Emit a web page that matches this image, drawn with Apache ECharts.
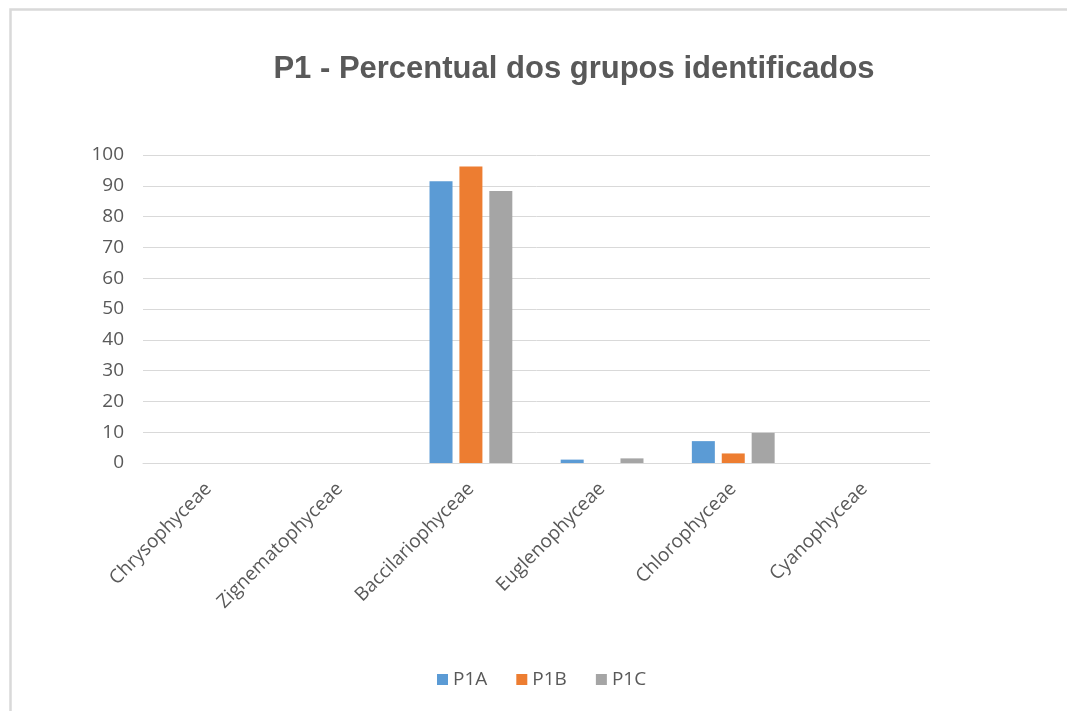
<!DOCTYPE html>
<html>
<head>
<meta charset="utf-8">
<script src="https://cdn.jsdelivr.net/npm/echarts@6/dist/echarts.min.js"></script>
<style>
  html, body { margin: 0; padding: 0; background: #fff; }
  #chart { width: 1067px; height: 711px; }
</style>
</head>
<body>
<div id="chart"></div>
<script>
// ── P1 - percentage of identified groups ──

const categories = ['Chrysophyceae', 'Zignematophyceae', 'Baccilariophyceae', 'Euglenophyceae', 'Chlorophyceae', 'Cyanophyceae'];
const seriesNames = ['P1A', 'P1B', 'P1C'];
const p1a = [0, 0, 91.5, 1.1, 7.1, 0];
const p1b = [0, 0, 96.3, 0, 3.1, 0];
const p1c = [0, 0, 88.3, 1.5, 9.8, 0];
const colors = ['#5b9bd5', '#ed7d31', '#a5a5a5'];

const chart = echarts.init(document.getElementById('chart'));
const txt = '#595959';

chart.setOption({
  backgroundColor: '#fff',
  animation: false,
  color: colors,
  title: {
    text: 'P1 - Percentual dos grupos identificados',
    left: 569, top: 49, textAlign: 'center',
    textStyle: { color: txt, fontSize: 31, fontWeight: 'bold', fontFamily: 'Liberation Sans' },
  },
  graphic: [{
    type: 'rect', left: 8, top: 7, silent: true,
    shape: { width: 1080, height: 720 },
    style: { fill: 'none', stroke: '#d9d9d9', lineWidth: 2.5 },
  }],
  legend: {
    data: seriesNames, bottom: 17, left: 432,
    icon: 'rect', itemWidth: 11, itemHeight: 11, itemGap: 29,
    textStyle: { color: txt, fontSize: 19, fontFamily: 'Open Sans' },
  },
  grid: { left: 143, right: 137, top: 155, bottom: 248, containLabel: false },
  xAxis: {
    type: 'category', data: categories,
    axisLine: { lineStyle: { color: '#d9d9d9', width: 1 } },
    axisTick: { show: false },
    axisLabel: { rotate: 45, color: txt, fontSize: 19, fontFamily: 'Open Sans', margin: 23, interval: 0 },
  },
  yAxis: {
    type: 'value', min: 0, max: 100, interval: 10,
    axisLine: { show: false }, axisTick: { show: false },
    axisLabel: { color: txt, fontSize: 19, fontFamily: 'Open Sans', margin: 19 },
    splitLine: { lineStyle: { color: '#d9d9d9', width: 1 } },
  },
  series: [
    { name: 'P1A', type: 'bar', data: p1a, barWidth: 23, barGap: '30%' },
    { name: 'P1B', type: 'bar', data: p1b, barWidth: 23, barGap: '30%' },
    { name: 'P1C', type: 'bar', data: p1c, barWidth: 23, barGap: '30%' },
  ],
});
</script>
</body>
</html>
